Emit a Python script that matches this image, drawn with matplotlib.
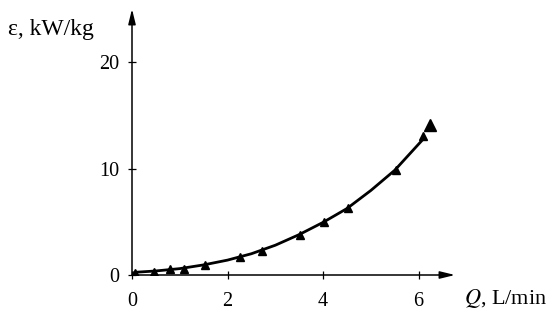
import matplotlib.pyplot as plt

# measured points (triangles)
q_points = [0.06, 0.46, 0.79, 1.09, 1.53, 2.26, 2.72, 3.51, 4.02, 4.52, 5.52, 6.09]
eps_points = [0.19, 0.28, 0.56, 0.56, 0.94, 1.69, 2.25, 3.76, 4.98, 6.29, 9.86, 13.1]

# the larger marker at the end
q_last = [6.23]
eps_last = [14.1]

# smooth curve
q_curve = [0.05, 0.5, 1.0, 1.5, 2.0, 2.5, 3.0, 3.5, 4.0, 4.5, 5.0, 5.5, 6.1]
eps_curve = [0.25, 0.38, 0.6, 0.95, 1.4, 2.0, 2.8, 3.8, 4.95, 6.25, 7.95, 9.85, 12.8]

x_ticks = [0, 2, 4, 6]
y_ticks = [0, 10, 20]

plt.rcParams['font.family'] = ['Liberation Serif', 'DejaVu Serif']
plt.rcParams['mathtext.fontset'] = 'stix'

fig = plt.figure(figsize=(5.5, 3.17), dpi=100)
W, H = 550, 317
x0, y0 = 132, 275
x1, y1 = 455, 9
ax = fig.add_axes([x0 / W, 1 - y0 / H, (x1 - x0) / W, (y0 - y1) / H])
ax.set_xlim(0, 6.76)
ax.set_ylim(0, 25)

for s in ax.spines.values():
    s.set_visible(False)

ax.plot(q_curve, eps_curve, color='black', lw=2, solid_capstyle='round',
        solid_joinstyle='round')
ax.plot(q_points, eps_points, '^', color='black', ms=6)
ax.plot(q_last, eps_last, '^', color='black', ms=9)

# axes with arrows
arrow = dict(arrowstyle='-|>,head_length=0.9,head_width=0.22', color='black', lw=1.1,
             shrinkA=0, shrinkB=0)
ax.annotate('', xy=(1, 0), xytext=(0, 0), xycoords='axes fraction', arrowprops=arrow,
            annotation_clip=False)
ax.annotate('', xy=(0, 1), xytext=(0, 0), xycoords='axes fraction', arrowprops=arrow,
            annotation_clip=False)

ax.set_xticks(x_ticks)
ax.set_yticks(y_ticks)
ax.set_xticklabels([str(t) for t in x_ticks])
ax.set_yticklabels([str(t) for t in y_ticks])
ax.tick_params(direction='inout', length=6, width=0.9, labelsize=14.5)
ax.tick_params(axis='x', pad=9)
ax.tick_params(axis='y', pad=6)

fig.text(8 / W, 1 - 30 / H, 'ε, kW/kg', fontsize=17, va='center', ha='left')
fig.text(464 / W, 1 - 298 / H, r'$Q$, L/min', fontsize=16, va='center', ha='left')

fig.savefig('out.png', dpi=100)
